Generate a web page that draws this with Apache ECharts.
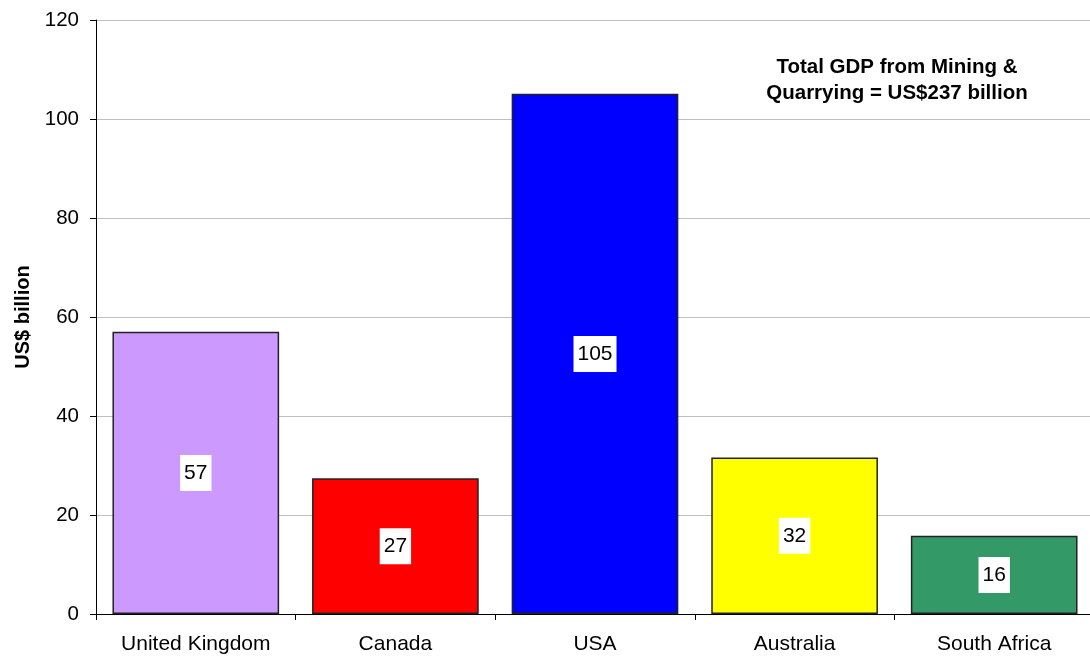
<!DOCTYPE html>
<html>
<head>
<meta charset="utf-8">
<script src="https://cdn.jsdelivr.net/npm/echarts@6/dist/echarts.min.js"></script>
<style>html,body{margin:0;padding:0;background:#fff;overflow:hidden;width:1090px;height:657px}#c{width:1094px;height:657px}</style>
</head>
<body>
<div id="c"></div>
<script>
var categories = ['United Kingdom', 'Canada', 'USA', 'Australia', 'South Africa'];
var values = [57.0, 27.4, 105.1, 31.6, 15.8];
var colors = ['#cc99ff', '#ff0000', '#0000ff', '#ffff00', '#339966'];
var yTicks = [0, 20, 40, 60, 80, 100, 120];
var annotation = 'Total GDP from Mining &\nQuarrying = US$237 billion';
var yName = 'US$ billion';

var FONT = 'Liberation Sans, Arial, sans-serif';
var chart = echarts.init(document.getElementById('c'), null, {renderer: 'canvas'});
chart.setOption({
  animation: false,
  backgroundColor: '#fff',
  grid: {left: 96, top: 20, right: 0, bottom: 43, containLabel: false},
  xAxis: {
    type: 'category',
    data: categories,
    axisLine: {lineStyle: {color: '#000', width: 1}},
    axisTick: {show: true, length: 6, alignWithLabel: false, lineStyle: {color: '#000'}},
    axisLabel: {color: '#000', fontSize: 21, fontFamily: FONT, margin: 20, interval: 0},
    splitLine: {show: false}
  },
  yAxis: {
    type: 'value',
    min: yTicks[0], max: yTicks[yTicks.length - 1], interval: yTicks[1] - yTicks[0],
    name: yName,
    nameLocation: 'middle',
    nameRotate: 90,
    nameGap: 63,
    nameTextStyle: {color: '#000', fontSize: 20, fontWeight: 'bold', fontFamily: FONT},
    axisLine: {show: true, lineStyle: {color: '#000', width: 1}},
    axisTick: {show: true, length: 6, lineStyle: {color: '#000'}},
    axisLabel: {color: '#000', fontSize: 20.5, fontFamily: FONT, margin: 17},
    splitLine: {show: true, lineStyle: {color: '#c0c0c0', width: 1}}
  },
  graphic: [{
    type: 'text',
    x: 897, y: 54,
    style: {
      text: annotation,
      textAlign: 'center',
      textVerticalAlign: 'top',
      fill: '#000',
      font: 'bold 20.5px ' + FONT,
      lineHeight: 26
    }
  }],
  series: [{
    type: 'bar',
    data: values.map(function (v, i) { return {value: v, itemStyle: {color: colors[i]}}; }),
    barCategoryGap: '16.5%',
    itemStyle: {borderColor: '#222', borderWidth: 1.5},
    label: {
      show: true,
      position: 'inside',
      formatter: function (p) { return Math.round(p.value); },
      color: '#000',
      fontSize: 21,
      fontFamily: FONT,
      backgroundColor: '#fff',
      padding: [8, 4, 7, 4]
    }
  }]
});
</script>
</body>
</html>
